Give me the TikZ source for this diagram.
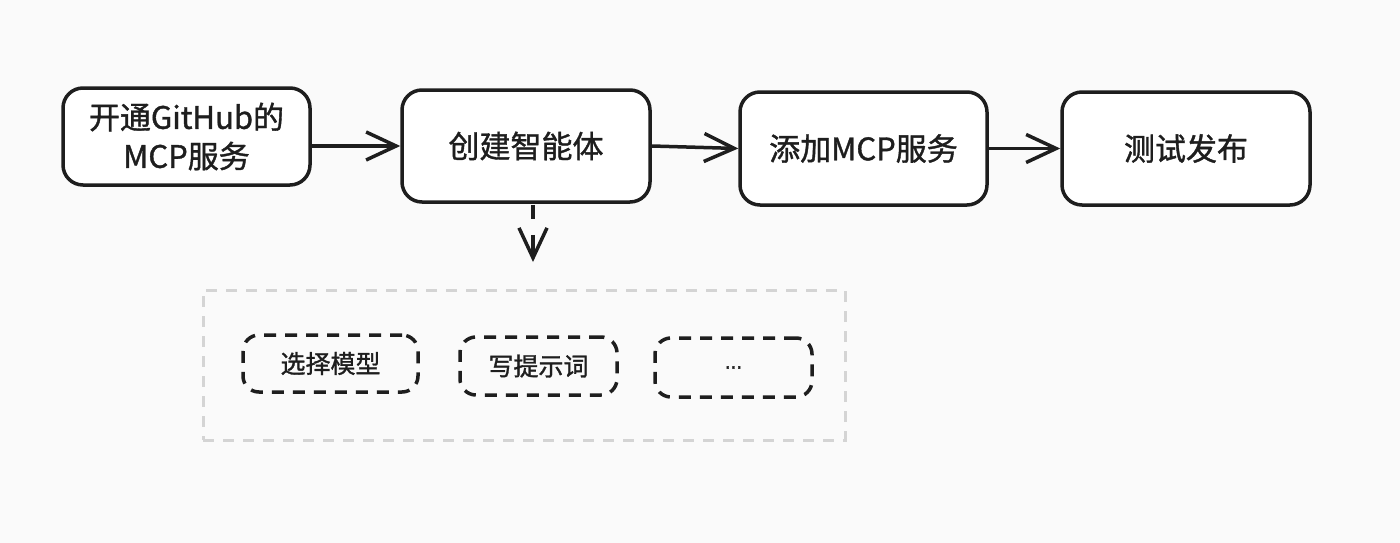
\documentclass[tikz,border=0pt]{standalone}
\usepackage{fontspec}
\setmainfont[FakeBold=1.2]{Noto Sans CJK SC}
\newfontfamily\dotsfont[FakeBold=2]{DejaVu Sans}
\usetikzlibrary{arrows.meta}
\definecolor{bg}{RGB}{250,250,250}
\definecolor{ink}{RGB}{30,30,30}
\definecolor{lightgray}{RGB}{212,212,212}
\tikzset{
  stepbox/.style={draw=ink, line width=3.5pt, rounded corners=20pt, fill=white, align=center, inner sep=0pt, font=\fontsize{31}{39}\selectfont, text=ink},
  subbox/.style={draw=ink, line width=3.5pt, rounded corners=16pt, dash pattern=on 12pt off 9pt, align=center, inner sep=0pt, font=\fontsize{25}{30}\selectfont, text=ink},
  container/.style={draw=lightgray, line width=3pt, dash pattern=on 11pt off 9pt, inner sep=0pt},
  flow/.style={draw=ink, line width=3.5pt, -{Straight Barb[length=30pt,width=28pt,line width=3.5pt]}},
}
\begin{document}
\begin{tikzpicture}[x=1pt,y=-1pt]
\useasboundingbox (0,0) rectangle (1400,543);
\fill[bg] (0,0) rectangle (1400,543);
\node[stepbox, minimum width=247pt, minimum height=97pt] (b1) at (186.5,136.5) {开通GitHub的\\MCP服务};
\node[stepbox, minimum width=248pt, minimum height=112pt] (b2) at (526,146) {创建智能体};
\node[stepbox, minimum width=247pt, minimum height=113pt] (b3) at (863.5,148.5) {添加MCP服务};
\node[stepbox, minimum width=248pt, minimum height=113pt] (b4) at (1186,148.5) {测试发布};
\node[container, minimum width=642pt, minimum height=150pt] (grp) at (524,365) {};
\node[subbox, minimum width=175pt, minimum height=57pt] (s1) at (330.5,363.5) {选择模型};
\node[subbox, minimum width=157pt, minimum height=58pt] (s2) at (538.5,366) {写提示词};
\node[subbox, minimum width=157pt, minimum height=59pt] (s3) at (733.5,367.5) {\dotsfont\fontsize{18}{22}\selectfont ...};
\draw[flow] (b1.east |- b2.center) -- (b2.west);
\draw[flow] (b2.east) -- (b3.west);
\draw[flow] (b3.east) -- (b4.west);
\coordinate (dtip) at (533,262);
\draw[flow, dash pattern=on 14pt off 16pt on 40pt] ([xshift=7pt,yshift=-1pt]b2.south) -- (dtip);
\end{tikzpicture}
\end{document}
